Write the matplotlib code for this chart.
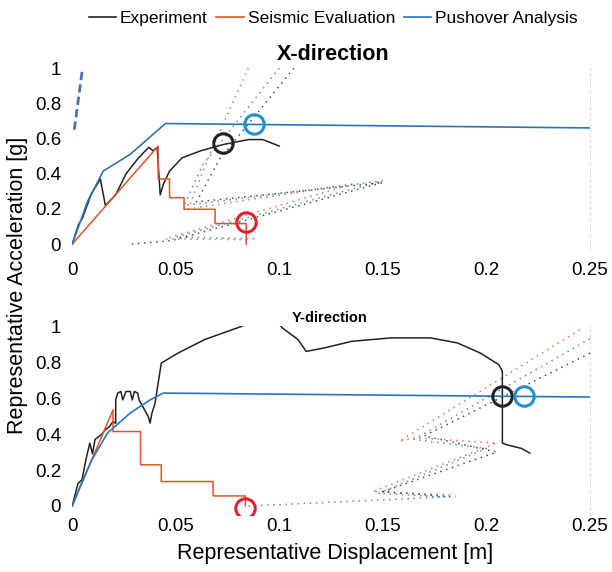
import numpy as np
import matplotlib
matplotlib.use("Agg")
import matplotlib.pyplot as plt

plt.rcParams['font.family'] = ['Liberation Sans', 'DejaVu Sans']

# --- X-direction data (displacement [m], acceleration [g]) ---
x_exp_d = [0, 0.003, 0.005, 0.0075, 0.009, 0.011, 0.0136, 0.016, 0.021, 0.026, 0.032, 0.037,
           0.039, 0.041, 0.0425, 0.044, 0.047, 0.053, 0.062, 0.073, 0.085, 0.092, 0.1]
x_exp_a = [0, 0.11, 0.15, 0.23, 0.28, 0.32, 0.37, 0.22, 0.28, 0.40, 0.49, 0.55,
           0.53, 0.55, 0.28, 0.34, 0.415, 0.49, 0.53, 0.566, 0.594, 0.594, 0.557]
x_seis_d = [0, 0.0415, 0.0415, 0.047, 0.047, 0.054, 0.054, 0.069, 0.069, 0.084, 0.084]
x_seis_a = [0, 0.557, 0.37, 0.37, 0.264, 0.264, 0.198, 0.198, 0.117, 0.117, 0.0]
x_push_d = [0, 0.0075, 0.015, 0.028, 0.045, 0.25]
x_push_a = [0, 0.245, 0.415, 0.51, 0.685, 0.66]
# demand spectra (dotted)
x_dem_red_d = [0.085, 0.066, 0.056, 0.135, 0.045, 0.085]
x_dem_red_a = [1.0, 0.50, 0.20, 0.34, 0.03, 0.025]
x_dem_blue_d = [0.1, 0.063, 0.054, 0.15, 0.05, 0.09]
x_dem_blue_a = [1.0, 0.45, 0.22, 0.36, 0.04, 0.03]
x_dem_blk_d = [0.107, 0.071, 0.06, 0.15, 0.048, 0.028]
x_dem_blk_a = [1.0, 0.48, 0.24, 0.35, 0.02, 0.0]
x_dem_steep_d = [0.001, 0.005]
x_dem_steep_a = [0.65, 1.0]
# performance points
x_pp_exp = (0.0727, 0.575)
x_pp_seis = (0.084, 0.128)
x_pp_push = (0.0877, 0.683)

# --- Y-direction data ---
y_exp_d = [0, 0.0028, 0.0047, 0.0066, 0.0085, 0.0098, 0.011, 0.014, 0.016, 0.018, 0.0197, 0.021,
           0.021, 0.022, 0.0235, 0.0244, 0.026, 0.028, 0.029, 0.03, 0.0316, 0.0323, 0.034, 0.0367,
           0.0376, 0.0385, 0.040, 0.043, 0.051, 0.064, 0.082, 0.088, 0.097, 0.1015, 0.109, 0.113,
           0.122, 0.135, 0.154, 0.173, 0.186, 0.197, 0.206, 0.2077, 0.2077, 0.21, 0.217, 0.221]
y_exp_a = [0, 0.126, 0.145, 0.257, 0.35, 0.29, 0.37, 0.396, 0.424, 0.442, 0.47, 0.46,
           0.59, 0.628, 0.637, 0.59, 0.637, 0.637, 0.59, 0.637, 0.628, 0.59, 0.554, 0.498,
           0.461, 0.517, 0.572, 0.795, 0.85, 0.926, 1.0, 1.05, 1.05, 0.99, 0.926, 0.86,
           0.88, 0.916, 0.935, 0.935, 0.907, 0.851, 0.786, 0.749, 0.35, 0.34, 0.32, 0.294]
y_seis_d = [0, 0.0197, 0.0197, 0.033, 0.033, 0.043, 0.043, 0.068, 0.068, 0.0836, 0.0836]
y_seis_a = [0, 0.535, 0.414, 0.414, 0.229, 0.229, 0.136, 0.136, 0.056, 0.056, 0.0]
y_push_d = [0, 0.0038, 0.0094, 0.017, 0.028, 0.0376, 0.044, 0.25]
y_push_a = [0, 0.108, 0.256, 0.405, 0.517, 0.59, 0.628, 0.606]
y_dem_red_d = [0.245, 0.158, 0.165, 0.205, 0.145, 0.185]
y_dem_red_a = [0.98, 0.36, 0.38, 0.35, 0.08, 0.06]
y_dem_blue_d = [0.25, 0.165, 0.20, 0.148, 0.18, 0.085]
y_dem_blue_a = [0.93, 0.37, 0.32, 0.07, 0.05, 0.0]
y_dem_blk_d = [0.25, 0.17, 0.205, 0.15, 0.185]
y_dem_blk_a = [0.85, 0.39, 0.30, 0.08, 0.05]
y_pp_exp = (0.2077, 0.613)
y_pp_seis = (0.0836, -0.013)
y_pp_push = (0.218, 0.613)

xticks = [0, 0.05, 0.1, 0.15, 0.2, 0.25]
xticklabels = ['0', '0.05', '0.1', '0.15', '0.2', '0.25']
yticks = [0, 0.2, 0.4, 0.6, 0.8, 1]
yticklabels = ['0', '0.2', '0.4', '0.6', '0.8', '1']

c_exp = '#222222'
c_seis = '#e0532b'
c_push = '#2b74b8'
c_circ_red = '#e0202a'
c_circ_blue = '#1d8fd0'

fig = plt.figure(figsize=(6.12, 5.72), dpi=100)
ax1 = fig.add_axes([0.118, 0.567, 0.846, 0.314])
ax2 = fig.add_axes([0.118, 0.0997, 0.846, 0.330])


def draw(ax, exp, seis, push, dems, pps, ylo):
    for (d, a, c, style, w) in dems:
        ax.plot(d, a, color=c, lw=w, ls=style, alpha=0.8)
    ax.plot(exp[0], exp[1], color=c_exp, lw=1.1)
    ax.plot(seis[0], seis[1], color=c_seis, lw=1.1)
    ax.plot(push[0], push[1], color=c_push, lw=1.2)
    for (p, c) in zip(pps, [c_exp, c_circ_red, c_circ_blue]):
        ax.plot(p[0], p[1], 'o', ms=14, mfc='none', mec=c, mew=2.2)
    ax.set_xlim(0, 0.25)
    ax.set_ylim(ylo, 1.0)
    ax.set_xticks(xticks)
    ax.set_xticklabels(xticklabels)
    ax.set_yticks(yticks)
    ax.set_yticklabels(yticklabels)
    ax.tick_params(length=0, labelsize=13.5)
    for s in ['top', 'left', 'bottom']:
        ax.spines[s].set_visible(False)
    ax.spines['right'].set_color('#dddddd')
    ax.spines['right'].set_linestyle((0, (2, 3)))


dot = (0, (1, 3))
draw(ax1, (x_exp_d, x_exp_a), (x_seis_d, x_seis_a), (x_push_d, x_push_a),
     [(x_dem_red_d, x_dem_red_a, c_seis, dot, 1.1), (x_dem_blue_d, x_dem_blue_a, c_push, dot, 1.1),
      (x_dem_blk_d, x_dem_blk_a, c_exp, dot, 1.1),
      (x_dem_steep_d, x_dem_steep_a, '#1f4fa0', (0, (3, 1.5)), 2.0)],
     [x_pp_exp, x_pp_seis, x_pp_push], -0.02)
draw(ax2, (y_exp_d, y_exp_a), (y_seis_d, y_seis_a), (y_push_d, y_push_a),
     [(y_dem_red_d, y_dem_red_a, c_seis, dot, 1.1), (y_dem_blue_d, y_dem_blue_a, c_push, dot, 1.1),
      (y_dem_blk_d, y_dem_blk_a, c_exp, dot, 1.1)],
     [y_pp_exp, y_pp_seis, y_pp_push], -0.05)

ax1.tick_params(axis='x', pad=10)
ax1.tick_params(axis='y', pad=8)
ax2.tick_params(axis='x', pad=2)
ax2.tick_params(axis='y', pad=8)

fig.text(333 / 612, 1 - 55 / 572, 'X-direction', ha='center', va='center',
         fontsize=15.5, fontweight='bold')
fig.text(330 / 612, 1 - 318 / 572, 'Y-direction', ha='center', va='center',
         fontsize=10.5, fontweight='bold')
fig.text(18 / 612, 1 - 285 / 572, 'Representative Acceleration [g]', rotation=90,
         ha='center', va='center', fontsize=15.5)
fig.text(335 / 612, 1 - 553 / 572, 'Representative Displacement [m]',
         ha='center', va='center', fontsize=15.5)

handles = [plt.Line2D([], [], color=c, lw=1.2) for c in [c_exp, c_seis, c_push]]
fig.legend(handles, ['Experiment', 'Seismic Evaluation', 'Pushover Analysis'],
           loc='center', bbox_to_anchor=(333 / 612, 1 - 18 / 572), ncol=3,
           frameon=False, fontsize=12.5, handlelength=1.6, handletextpad=0.2,
           columnspacing=0.5)

fig.savefig('out.png', dpi=100)
